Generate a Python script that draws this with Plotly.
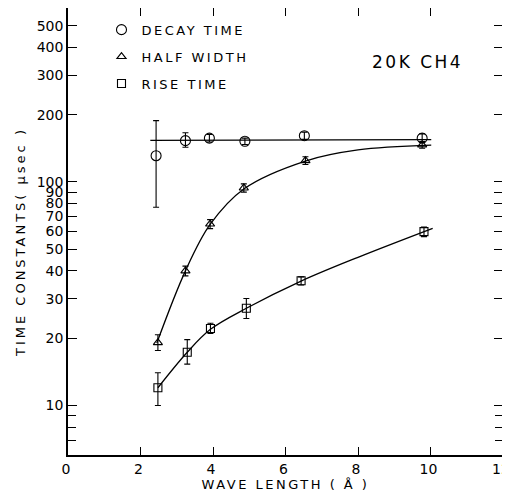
import plotly.graph_objects as go

# ---- data ----
decay_x = [2.43, 3.24, 3.90, 4.88, 6.52, 9.77]
decay_y = [131, 153, 157, 152, 161, 157]
decay_up = [57, 13, 6, 5, 6, 7]
decay_dn = [54, 10, 6, 5, 6, 7]

half_x = [2.48, 3.24, 3.92, 4.85, 6.55, 9.77]
half_y = [19.1, 40.0, 64.8, 94.0, 124.6, 146.5]
half_up = [1.6, 2.0, 3.0, 4.0, 5.0, 5.0]
half_dn = [1.5, 2.0, 3.0, 4.0, 5.0, 5.0]

rise_x = [2.48, 3.29, 3.93, 4.92, 6.43, 9.82]
rise_y = [12.0, 17.3, 22.1, 27.2, 36.1, 59.9]
rise_up = [2.0, 2.4, 1.2, 2.9, 1.5, 3.0]
rise_dn = [2.0, 2.0, 1.1, 2.7, 1.5, 3.0]

# fitted curves
decay_fit_x = [2.27, 10.02]
decay_fit_y = [153.5, 154.5]
half_fit_x = [2.45, 3.24, 3.92, 4.85, 6.55, 8.0, 10.02]
half_fit_y = [19.0, 40.0, 64.5, 93.0, 124.0, 139.0, 146.0]
rise_fit_x = [2.48, 3.29, 3.93, 4.92, 6.43, 8.0, 10.06]
rise_fit_y = [12.0, 17.3, 21.9, 27.2, 36.0, 46.0, 62.0]

y_major = [10, 20, 30, 40, 50, 60, 70, 80, 90, 100, 200, 300, 400, 500]
y_minor = [7, 8, 9]
x_ticks = [0, 2, 4, 6, 8, 10, 12]

FONT = "DejaVu Sans"


def spaced(t, px):
    return '<span style="letter-spacing:%spx">%s</span>' % (px, t)


fig = go.Figure()

for fx, fy in [(decay_fit_x, decay_fit_y), (half_fit_x, half_fit_y), (rise_fit_x, rise_fit_y)]:
    fig.add_trace(go.Scatter(x=fx, y=fy, mode="lines", showlegend=False,
                             line=dict(color="black", width=1.3, shape="spline", smoothing=1.0),
                             hoverinfo="skip"))


def pts(x, y, up, dn, name, sym, size):
    return go.Scatter(
        x=x, y=y, mode="markers", name=spaced(name, 2.5), legendgroup=name,
        marker=dict(symbol=sym, size=size, color="black", line=dict(width=1.1, color="black")),
        error_y=dict(type="data", symmetric=False, array=up, arrayminus=dn,
                     color="black", thickness=1.1, width=3),
    )


fig.add_trace(pts(decay_x, decay_y, decay_up, decay_dn, "DECAY TIME", "circle-open", 10))
fig.add_trace(pts(half_x, half_y, half_up, half_dn, "HALF WIDTH", "triangle-up-open", 8))
fig.add_trace(pts(rise_x, rise_y, rise_up, rise_dn, "RISE TIME", "square-open", 8))

fig.add_annotation(x=0.913, y=0.906, xref="paper", yref="paper", text=spaced("20K CH4", 2.5),
                   showarrow=False, font=dict(family=FONT, size=17, color="black"))

# y-axis title as a rotated annotation so it can sit where the original does
fig.add_annotation(x=-0.131, y=0.4754, xref="paper", yref="paper",
                   text=spaced("TIME CONSTANTS( μsec )", 3), textangle=-90,
                   showarrow=False, font=dict(family=FONT, size=13, color="black"))

# the page body adds an 8px margin, so the figure is sized to the visible area
fig.update_layout(
    width=502, height=488,
    margin=dict(l=60, r=7, t=0, b=41),
    paper_bgcolor="white", plot_bgcolor="white",
    font=dict(family=FONT, size=14, color="black"),
    showlegend=True,
    legend=dict(x=0.077, y=0.985, xanchor="left", yanchor="top",
                bgcolor="rgba(0,0,0,0)", font=dict(family=FONT, size=13),
                itemwidth=30, tracegroupgap=7),
    xaxis=dict(range=[0, 12], tickvals=x_ticks, ticks="inside", ticklen=8,
               tickcolor="black", showline=True, linecolor="black", linewidth=1.5,
               mirror="ticks", showgrid=False, zeroline=False, automargin=False,
               ticklabeloverflow="allow", ticklabelshift=-2,
               title=dict(text=spaced("WAVE LENGTH ( Å )", 2.5), font=dict(family=FONT, size=13), standoff=0),
               tickfont=dict(family=FONT, size=14)),
    yaxis=dict(type="log", range=[0.7782, 2.7782], tickvals=y_major,
               ticktext=[str(v) for v in y_major],
               ticks="inside", ticklen=9, tickcolor="black",
               showline=True, linecolor="black", linewidth=1.5, mirror="ticks",
               showgrid=False, zeroline=False, automargin=False,
               minor=dict(tickvals=y_minor, ticks="inside", ticklen=8, tickcolor="black",
                          showgrid=False),
               tickfont=dict(family=FONT, size=14)),
)

fig.write_html("out.html")
